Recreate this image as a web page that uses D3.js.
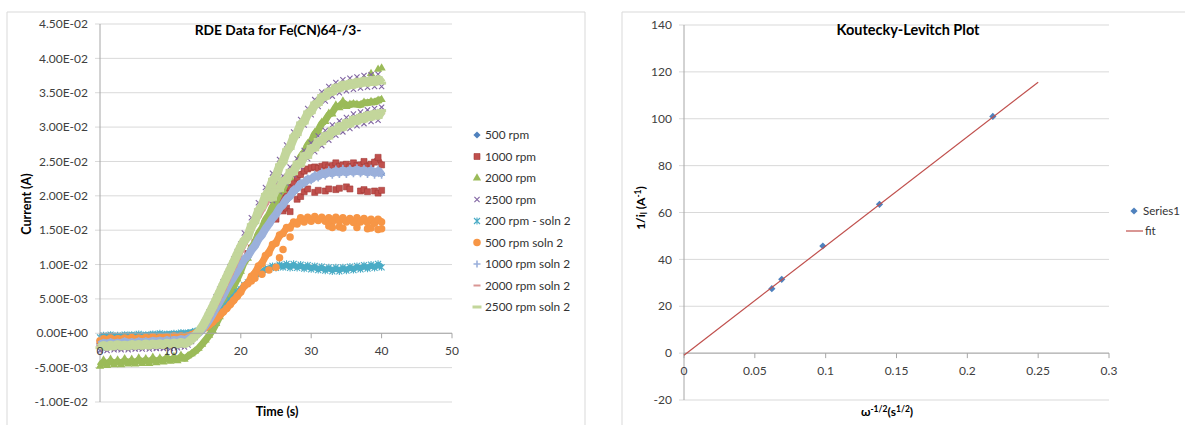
<!DOCTYPE html>
<html>
<head>
<meta charset="utf-8">
<script src="https://cdn.jsdelivr.net/npm/d3@7"></script>
<style>
  body { margin: 0; background: #fff; }
  svg { font-family: Lato, "Open Sans", sans-serif; }
</style>
</head>
<body>
<svg id="chart" width="1185" height="425"></svg>
<script>
// ---- RDE data: current in mA, sampled every 0.5 s (t = 0 .. 40) ----
const time = d3.range(0, 81).map(k => k * 0.5);

const i500 = [-1.5,-1.2,-1.5,-1.2,-1.4,-1.2,-1.4,-1.1,-1.4,-1.1,-1.3,-1.1,-1.3,-1.0,-1.3,-1.0,-1.2,-1.0,-1.2,-0.9,-1.1,-0.9,-1.1,-0.8,-1.0,
  -0.7,-0.5,-0.2,0.1,0.6,1.2,2.0,2.8,3.8,4.7,5.6,6.5,7.4,8.3,9.1,9.9,
  10.7,11.3,12.0,12.8,13.6,14.4,15.1,15.9,16.6,17.4,18.0,18.8,19.3,20.0,20.5,21.1,21.5,21.9,22.3,22.5,
  22.8,22.9,23.2,23.2,23.4,23.3,23.5,23.4,23.6,23.4,23.6,23.5,23.6,23.5,23.6,23.4,23.5,23.3,23.4,23.2];

const i1000 = [-1.4,-1.1,-1.4,-1.0,-1.3,-1.1,-1.3,-1.0,-1.3,-1.0,-1.2,-1.0,-1.2,-0.9,-1.2,-0.9,-1.1,-0.9,-1.1,-0.8,-1.0,-0.8,-1.0,-0.7,-0.9,
  -0.6,-0.4,-0.1,0.2,0.7,1.3,2.1,3.0,3.9,4.8,5.7,6.6,7.5,8.4,9.2,10.0,
  10.8,11.6,12.4,13.2,14.0,14.8,15.6,16.4,17.2,18.0,18.8,19.6,20.4,21.2,21.9,22.6,23.1,23.6,23.9,24.1,
  24.2,24.0,24.3,24.5,24.2,24.4,24.8,24.3,24.5,24.6,24.2,24.8,24.4,24.5,25.0,24.3,24.6,24.9,25.6,24.5];
// second, lower set of points (t = 25 .. 40)
const i1000b = [16.6,null,17.8,18.2,17.7,null,19.5,19.9,20.6,21.0,null,20.5,20.8,null,20.7,21.0,null,20.9,21.1,null,
  21.3,21.0,null,null,20.7,20.9,20.6,null,20.7,20.4,20.8];

const i2000 = [-4.8,-3.9,-4.7,-3.8,-4.6,-3.9,-4.6,-3.7,-4.5,-3.8,-4.5,-3.6,-4.4,-3.7,-4.4,-3.5,-4.3,-3.6,-4.2,-3.4,-4.1,-3.4,-4.0,-3.2,-3.8,
  -3.3,-3.0,-2.6,-2.2,-1.6,-1.0,-0.3,0.4,1.4,2.4,3.5,4.6,5.7,6.8,7.9,9.0,
  10.5,10.9,12.6,13.0,14.7,15.1,16.7,17.1,18.6,19.0,20.5,20.8,22.3,22.6,24.1,24.4,25.9,26.1,27.6,27.8,
  29.2,29.4,30.7,30.8,32.0,31.9,33.2,32.8,33.8,33.0,33.3,33.4,33.3,33.2,33.6,33.5,33.7,33.6,33.9,34.0];
// high points at the end of the run (t = 35.5 .. 40)
const i2000b = [36.2,null,36.8,null,37.0,null,37.8,null,38.4,38.6];

const i2500 = [-2.5,-2.3,-2.5,-2.2,-2.4,-2.3,-2.4,-2.2,-2.4,-2.2,-2.3,-2.2,-2.3,-2.1,-2.3,-2.1,-2.2,-2.1,-2.2,-2.0,-2.2,-2.0,-2.1,-1.9,-2.0,
  -1.7,-1.2,-0.6,0.1,1.0,2.0,3.1,4.2,5.3,6.4,7.5,8.6,9.7,10.8,11.9,13.0,
  14.6,14.2,16.8,16.4,19.0,18.6,21.2,20.8,23.3,22.9,25.3,25.0,27.4,27.0,29.3,28.8,31.1,30.3,32.7,31.8,
  34.0,33.0,35.1,33.8,35.9,34.5,36.5,35.0,36.9,35.3,37.1,35.5,37.3,35.7,37.5,35.8,37.6,35.9,37.7,35.9];
// lower branch (t = 24 .. 40)
const i2500b = [20.5,19.3,21.8,20.6,22.9,21.8,24.2,23.0,25.4,24.2,26.6,25.4,27.7,26.4,28.7,27.3,29.5,28.1,30.3,28.8,
  30.9,29.3,31.4,29.8,31.9,30.2,32.2,30.5,32.5,30.8,32.7,31.0,32.9];

const i200s2 = [-0.6,-0.3,-0.5,-0.2,-0.5,-0.3,-0.5,-0.2,-0.4,-0.2,-0.4,-0.1,-0.4,-0.2,-0.3,-0.1,-0.3,0.0,-0.3,-0.1,-0.2,0.0,-0.2,0.1,-0.1,
  0.1,0.1,0.3,0.4,0.6,0.8,1.2,1.6,2.3,2.8,3.5,4.0,4.8,5.2,6.0,6.4,
  7.0,7.4,8.0,8.2,8.8,8.8,9.4,9.3,9.8,9.5,10.0,9.6,10.1,9.5,10.1,9.5,10.0,9.4,9.9,9.3,
  9.8,9.2,9.7,9.1,9.6,9.0,9.6,9.0,9.6,9.1,9.7,9.2,9.8,9.3,9.9,9.4,10.0,9.5,10.1,9.6];

const i500s2 = [-1.1,-0.8,-1.0,-0.7,-1.0,-0.8,-0.9,-0.7,-0.9,-0.6,-0.9,-0.7,-0.8,-0.6,-0.8,-0.5,-0.8,-0.6,-0.7,-0.5,-0.7,-0.4,-0.6,-0.4,-0.5,
  -0.4,-0.2,0.0,0.2,0.5,0.8,1.2,1.6,2.1,2.6,3.1,3.6,4.2,4.8,5.4,6.0,
  6.9,7.2,8.3,8.7,9.8,10.1,11.3,11.7,12.9,13.1,14.3,14.5,15.4,15.3,16.2,15.9,16.8,16.2,16.9,16.3,
  17.0,16.4,16.9,16.3,16.8,16.2,16.9,16.3,16.8,16.2,16.7,16.1,16.8,16.2,16.7,16.1,16.6,16.0,16.6,16.2];
// scattered low points (t = 21 .. 40)
const i500s2b = [null,7.6,8.0,null,8.6,null,9.2,null,9.6,11.0,12.2,null,14.0,null,null,null,null,null,null,null,
  null,null,null,15.6,15.4,null,15.5,15.3,null,null,null,15.4,null,null,15.2,15.3,null,15.1,15.2];

const i1000s2 = [-1.7,-1.3,-1.6,-1.2,-1.6,-1.3,-1.5,-1.1,-1.5,-1.2,-1.5,-1.1,-1.4,-1.1,-1.4,-1.0,-1.3,-1.0,-1.3,-0.9,-1.2,-0.9,-1.1,-0.8,-1.0,
  -0.8,-0.5,-0.3,0.0,0.5,1.2,1.9,2.8,3.7,4.6,5.5,6.5,7.4,8.2,9.0,9.8,
  10.9,11.1,12.2,12.6,13.8,14.2,15.3,15.8,16.8,17.2,18.3,18.6,19.7,19.8,21.0,20.9,22.0,21.7,22.6,22.2,
  23.1,22.6,23.5,22.9,23.8,23.0,23.9,23.1,24.0,23.1,24.0,23.2,24.1,23.2,24.0,23.1,24.0,23.0,23.9,23.0];

const i2000s2 = [-1.9,-1.6,-1.9,-1.6,-1.8,-1.6,-1.8,-1.5,-1.8,-1.5,-1.7,-1.5,-1.7,-1.4,-1.7,-1.4,-1.6,-1.4,-1.6,-1.3,-1.6,-1.3,-1.5,-1.2,-1.4,
  -1.2,-0.9,-0.5,0.0,0.6,1.4,2.3,3.3,4.3,5.3,6.4,7.5,8.6,9.7,10.8,11.9,
  13.0,14.1,15.1,16.1,17.0,17.9,18.8,19.6,20.4,21.0,21.6,22.1,22.7,23.3,23.9,24.5,25.1,25.7,26.2,26.8,
  27.3,27.8,28.2,28.6,29.0,29.4,29.7,30.0,30.3,30.5,30.8,31.0,31.2,31.3,31.5,31.6,31.7,31.8,31.9,32.0];

const i2500s2 = [-2.1,-1.6,-2.1,-1.6,-2.0,-1.5,-2.0,-1.6,-2.0,-1.5,-1.9,-1.5,-1.9,-1.4,-1.9,-1.4,-1.8,-1.4,-1.8,-1.3,-1.7,-1.3,-1.7,-1.2,-1.6,
  -1.3,-0.9,-0.4,0.2,0.9,1.8,2.8,3.8,4.9,6.0,7.1,8.2,9.3,10.4,11.5,12.6,
  13.6,13.9,15.8,16.1,18.0,18.3,20.2,20.5,22.4,22.6,24.5,24.8,26.7,26.9,28.7,28.9,30.6,30.6,32.2,32.1,
  33.5,33.3,34.6,34.2,35.4,34.9,36.0,35.4,36.4,35.7,36.6,35.9,36.8,36.1,37.0,36.2,37.1,36.3,37.2,36.4];
// lower branch (t = 24 .. 40)
const i2500s2b = [20.0,19.5,21.3,20.8,22.4,22.0,23.7,23.2,24.9,24.4,26.1,25.6,27.2,26.7,28.2,27.6,29.0,28.4,29.8,29.1,
  30.4,29.7,30.9,30.2,31.4,30.6,31.7,30.9,32.0,31.2,32.2,31.4,32.4];

const seriesNames = ['500 rpm', '1000 rpm', '2000 rpm', '2500 rpm', '200 rpm - soln 2',
  '500 rpm soln 2', '1000 rpm soln 2', '2000 rpm soln 2', '2500 rpm soln 2'];
const seriesColors = ['#4F81BD', '#C0504D', '#9BBB59', '#8064A2', '#4BACC6',
  '#F79646', '#9BB0DB', '#D99694', '#C3D69B'];
const seriesMarkers = ['diamond', 'square', 'triangle', 'cross', 'star',
  'circle', 'plus', 'dash', 'wideDash'];
const seriesData = [[i500], [i1000, i1000b], [i2000, i2000b], [i2500, i2500b], [i200s2],
  [i500s2, i500s2b], [i1000s2], [i2000s2], [i2500s2, i2500s2b]];

const rdeYTicks = d3.range(-2, 10).map(k => k * 0.005);
const rdeXTicks = [0, 10, 20, 30, 40, 50];

// ---- Koutecky-Levich data ----
const klOmega = [0.062, 0.069, 0.098, 0.138, 0.218];
const klInvI = [27.5, 31.5, 45.7, 63.5, 101.0];
const fitOmega = [0, 0.25];
const fitInvI = [-0.9, 115.6];
const klYTicks = [-20, 0, 20, 40, 60, 80, 100, 120, 140];
const klXTicks = [0, 0.05, 0.1, 0.15, 0.2, 0.25, 0.3];

// ---- drawing ----
const svg = d3.select('#chart');
const gridColor = '#D9D9D9';
const axisColor = '#A6A6A6';
const labelColor = '#404040';

// dense scatter in the original reads as a solid band; width of that band per series (px)
const bandWidth = [6, 5, 7, 0, 6, 7, 8, 6, 9];

const markerPaths = {
  diamond: 'M0,-3.6L3.6,0L0,3.6L-3.6,0Z',
  square: 'M-3,-3h6v6h-6z',
  triangle: d3.symbol(d3.symbolTriangle, 30)(),
  cross: 'M-2.6,-2.6L2.6,2.6M-2.6,2.6L2.6,-2.6',
  star: 'M-3,-3L3,3M-3,3L3,-3M0,-3.5V3.5',
  circle: d3.symbol(d3.symbolCircle, 44)(),
  plus: 'M-3.5,0H3.5M0,-3.5V3.5',
  dash: 'M-3.5,-1h7v2h-7z',
  wideDash: 'M-4.5,-1.5h9v3h-9z'
};
const stroked = new Set(['cross', 'star', 'plus']);

function styleMarker(sel, type, color) {
  sel.attr('d', markerPaths[type]);
  if (stroked.has(type)) {
    sel.attr('fill', 'none').attr('stroke', color).attr('stroke-width', type === 'plus' ? 1.6 : 1.1);
  } else if (type === 'square') {
    sel.attr('fill', color).attr('stroke', '#A23B38').attr('stroke-width', 0.6);
  } else {
    sel.attr('fill', color);
  }
}

function sci(v) {
  if (Math.abs(v) < 1e-12) return '0.00E+00';
  const [m, e] = v.toExponential(2).split('e');
  const n = +e;
  return m + 'E' + (n < 0 ? '-' : '+') + String(Math.abs(n)).padStart(2, '0');
}

// chart frames
svg.append('path').attr('d', 'M7,425V12H585V425').attr('fill', 'none').attr('stroke', gridColor);
svg.append('path').attr('d', 'M622,425V12H1185').attr('fill', 'none').attr('stroke', gridColor);

// ===== left chart: RDE data =====
const xL = d3.scaleLinear().domain([0, 50]).range([100, 452]);
const yL = d3.scaleLinear().domain([-0.01, 0.045]).range([402, 24]);
const left = svg.append('g');

left.append('g').selectAll('line').data(rdeYTicks).join('line')
  .attr('x1', xL(0) - 5).attr('x2', xL(50))
  .attr('y1', d => yL(d)).attr('y2', d => yL(d))
  .attr('stroke', gridColor);

left.append('line').attr('x1', xL(0)).attr('x2', xL(0))
  .attr('y1', yL(0.045)).attr('y2', yL(-0.01)).attr('stroke', axisColor);

left.append('g').selectAll('text').data(rdeYTicks).join('text')
  .attr('x', 88).attr('y', d => yL(d)).attr('dy', '0.35em')
  .attr('text-anchor', 'end').attr('font-size', 12).attr('fill', labelColor)
  .text(sci);

const band = d3.line().curve(d3.curveBasis)
  .x(d => xL(d[0])).y(d => yL(d[1] * 1e-3));

// series drawn in order, later series on top (as in the original)
seriesData.forEach((branches, si) => {
  const g = left.append('g');
  branches.forEach(arr => {
    const ts = time.slice(time.length - arr.length);
    const pts = arr.map((v, i) => [ts[i], v]).filter(d => d[1] != null);
    if (bandWidth[si] > 0 && pts.length === arr.length) {
      g.append('path').datum(pts).attr('d', band)
        .attr('fill', 'none').attr('stroke', seriesColors[si])
        .attr('stroke-width', bandWidth[si]).attr('stroke-linejoin', 'round');
    }
    g.append('g').selectAll('path').data(pts).join('path')
      .attr('transform', d => `translate(${xL(d[0])},${yL(d[1] * 1e-3)})`)
      .call(styleMarker, seriesMarkers[si], seriesColors[si]);
  });
});

// x axis at zero
const xAxisL = left.append('g');
xAxisL.append('line').attr('x1', xL(0)).attr('x2', xL(50))
  .attr('y1', yL(0)).attr('y2', yL(0)).attr('stroke', axisColor);
xAxisL.selectAll('line.tick').data(rdeXTicks).join('line').attr('class', 'tick')
  .attr('x1', d => xL(d)).attr('x2', d => xL(d))
  .attr('y1', yL(0)).attr('y2', yL(0) + 5).attr('stroke', axisColor);
xAxisL.selectAll('text').data(rdeXTicks).join('text')
  .attr('x', d => xL(d)).attr('y', yL(0) + 22)
  .attr('text-anchor', 'middle').attr('font-size', 12).attr('fill', labelColor)
  .text(d => d);

left.append('text').attr('x', 278).attr('y', 35).attr('text-anchor', 'middle')
  .attr('font-size', 13.8).attr('font-weight', 'bold').text('RDE Data for Fe(CN)64-/3-');
left.append('text').attr('x', 277).attr('y', 416).attr('text-anchor', 'middle')
  .attr('font-size', 12.5).attr('font-weight', 'bold').text('Time (s)');
left.append('text').attr('transform', 'translate(31,204) rotate(-90)').attr('text-anchor', 'middle')
  .attr('font-size', 12.5).attr('font-weight', 'bold').text('Current (A)');

// legend
const legL = left.append('g').selectAll('g').data(seriesNames).join('g')
  .attr('transform', (d, i) => `translate(477,${135 + i * 21.5})`);
legL.append('path').each(function (d, i) {
  d3.select(this).call(styleMarker, seriesMarkers[i], seriesColors[i]);
});
legL.append('text').attr('x', 8).attr('dy', '0.35em').attr('font-size', 11.8)
  .attr('fill', '#333').text(d => d);

// ===== right chart: Koutecky-Levich =====
const xR = d3.scaleLinear().domain([0, 0.3]).range([684, 1109]);
const yR = d3.scaleLinear().domain([-20, 140]).range([400, 25]);
const right = svg.append('g');

right.append('g').selectAll('line').data(klYTicks).join('line')
  .attr('x1', xR(0) - 5).attr('x2', xR(0.3))
  .attr('y1', d => yR(d)).attr('y2', d => yR(d))
  .attr('stroke', gridColor);
right.append('line').attr('x1', xR(0)).attr('x2', xR(0))
  .attr('y1', yR(140)).attr('y2', yR(-20)).attr('stroke', axisColor);
right.append('g').selectAll('text').data(klYTicks).join('text')
  .attr('x', 672).attr('y', d => yR(d)).attr('dy', '0.35em')
  .attr('text-anchor', 'end').attr('font-size', 12).attr('fill', labelColor)
  .text(d => d);

const xAxisR = right.append('g');
xAxisR.append('line').attr('x1', xR(0)).attr('x2', xR(0.3))
  .attr('y1', yR(0)).attr('y2', yR(0)).attr('stroke', axisColor);
xAxisR.selectAll('line.tick').data(klXTicks).join('line').attr('class', 'tick')
  .attr('x1', d => xR(d)).attr('x2', d => xR(d))
  .attr('y1', yR(0)).attr('y2', yR(0) + 5).attr('stroke', axisColor);
xAxisR.selectAll('text').data(klXTicks).join('text')
  .attr('x', d => xR(d)).attr('y', yR(0) + 22)
  .attr('text-anchor', 'middle').attr('font-size', 12).attr('fill', labelColor)
  .text(d => d3.format('~g')(d));

right.append('g').selectAll('path').data(klOmega.map((x, i) => [x, klInvI[i]])).join('path')
  .attr('transform', d => `translate(${xR(d[0])},${yR(d[1])})`)
  .call(styleMarker, 'diamond', '#4F81BD');

right.append('path')
  .datum(fitOmega.map((x, i) => [x, fitInvI[i]]))
  .attr('d', d3.line().x(d => xR(d[0])).y(d => yR(d[1])))
  .attr('fill', 'none').attr('stroke', '#C0504D').attr('stroke-width', 1.2);

right.append('text').attr('x', 908).attr('y', 35).attr('text-anchor', 'middle')
  .attr('font-size', 14.5).attr('font-weight', 'bold').text('Koutecky-Levitch Plot');

const xt = right.append('text').attr('x', 887).attr('y', 416).attr('text-anchor', 'middle')
  .attr('font-size', 12).attr('font-weight', 'bold');
xt.append('tspan').text('ω');
xt.append('tspan').attr('baseline-shift', '40%').attr('font-size', 8.5).text('-1/2');
xt.append('tspan').text('(s');
xt.append('tspan').attr('baseline-shift', '40%').attr('font-size', 8.5).text('1/2');
xt.append('tspan').text(')');

const yt = right.append('text').attr('transform', 'translate(645,208) rotate(-90)')
  .attr('text-anchor', 'middle').attr('font-size', 12).attr('font-weight', 'bold');
yt.append('tspan').text('1/i');
yt.append('tspan').attr('baseline-shift', '-20%').attr('font-size', 8.5).text('l');
yt.append('tspan').text(' (A');
yt.append('tspan').attr('baseline-shift', '40%').attr('font-size', 8.5).text('-1');
yt.append('tspan').text(')');

// legend (kept just inside the right edge)
const legR = right.append('g');
legR.append('path').attr('transform', 'translate(1134,211)').call(styleMarker, 'diamond', '#4F81BD');
legR.append('text').attr('x', 1143).attr('y', 211).attr('dy', '0.35em').attr('font-size', 11.5)
  .attr('fill', '#333').text('Series1');
legR.append('line').attr('x1', 1126).attr('x2', 1143).attr('y1', 231).attr('y2', 231)
  .attr('stroke', '#C0504D').attr('stroke-width', 1.2);
legR.append('text').attr('x', 1145).attr('y', 231).attr('dy', '0.35em').attr('font-size', 11.5)
  .attr('fill', '#333').text('fit');
</script>
</body>
</html>
